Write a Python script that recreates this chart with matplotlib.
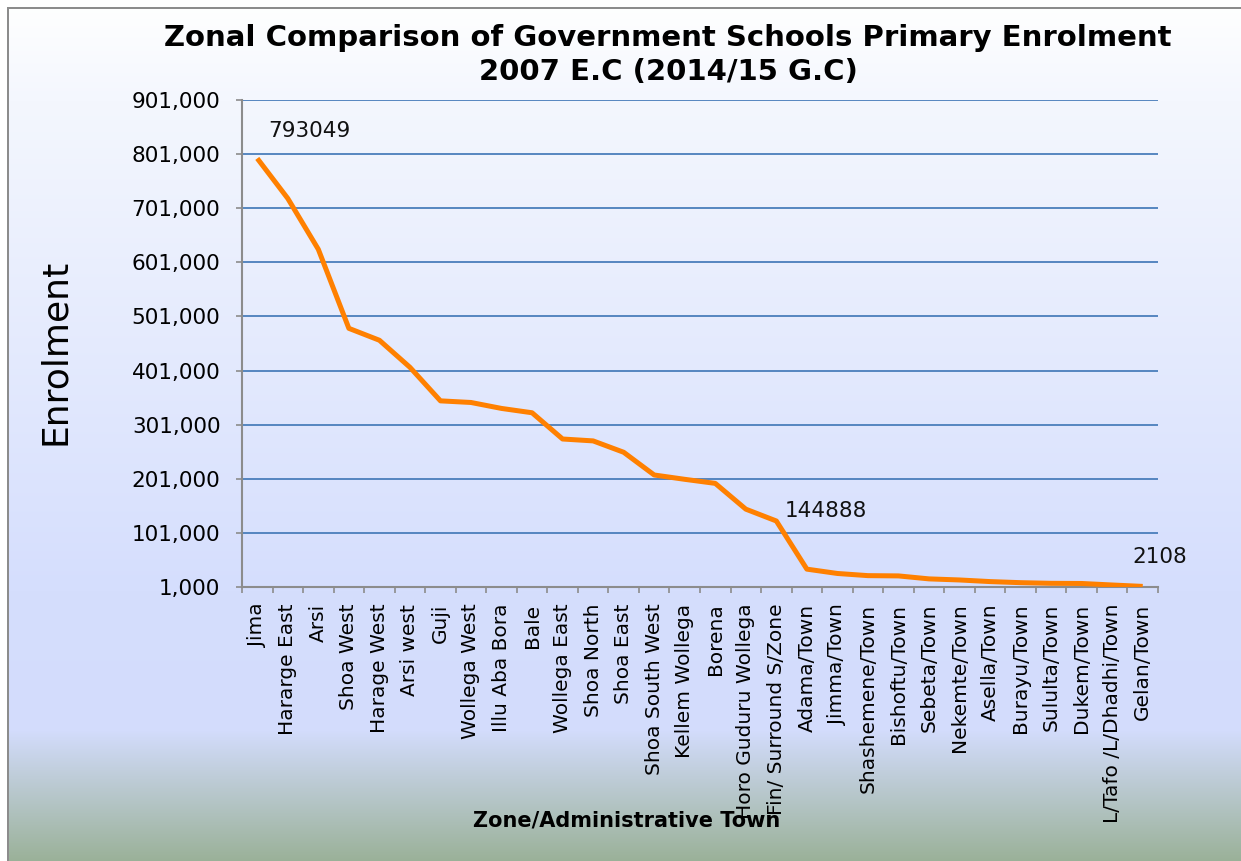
#!/usr/bin/env python3

"""
zonal comparison of government schools primary enrolment, 2007 E.C
"""

import numpy as np
import matplotlib
matplotlib.use("Agg")
import matplotlib.pyplot as plt
from matplotlib.ticker import FuncFormatter

zones = ["Jima", "Hararge East", "Arsi", "Shoa West", "Harage West", "Arsi west",
         "Guji", "Wollega West", "Illu Aba Bora", "Bale", "Wollega East", "Shoa North",
         "Shoa East", "Shoa South West", "Kellem Wollega", "Borena",
         "Horo Guduru Wollega", "Fin/ Surround S/Zone", "Adama/Town", "Jimma/Town",
         "Shashemene/Town", "Bishoftu/Town", "Sebeta/Town", "Nekemte/Town",
         "Asella/Town", "Burayu/Town", "Sululta/Town", "Dukem/Town",
         "L/Tafo /L/Dhadhi/Town", "Gelan/Town"]
enrolment = [793049, 719000, 625000, 479000, 457000, 407000, 345000, 342000,
             331000, 323000, 274500, 271000, 250000, 208000, 200000, 192500,
             144888, 123000, 34000, 26000, 22000, 21500, 16000, 14000,
             11000, 9000, 7800, 7500, 4700, 2108]
yticks = list(range(1000, 901001, 100000))
labelled = [0, 16, 29]

fig = plt.figure(figsize=(12.41, 8.61), dpi=100)

# background gradient + outer border drawn straight into one image
H, W = 861, 1241
stops_y = [0, 100, 590, 730, 861]
stops_c = np.array([[255, 255, 255], [244, 247, 254], [213, 222, 253],
                    [211, 220, 252], [154, 177, 152]]) / 255.0
rows = np.arange(H)
grad = np.stack([np.interp(rows, stops_y, stops_c[:, k]) for k in range(3)], axis=1)
img = np.repeat(grad[:, None, :], W, axis=1)
img[:7, :, :] = 1.0
img[:, :7, :] = 1.0
img[7:9, 7:, :] = 0.55   # top border
img[7:, 7:9, :] = 0.55   # left border
bg = fig.add_axes([0, 0, 1, 1], zorder=-10)
bg.imshow(img, aspect="auto", interpolation="nearest")
bg.set_axis_off()

ax = fig.add_axes([242 / 1241, 1 - 587 / 861, 916 / 1241, 487 / 861])
ax.set_facecolor("none")

x = np.arange(len(zones))
ax.plot(x, enrolment, color="#ff8000", linewidth=3.6, solid_capstyle="butt", zorder=3)

for i in labelled:
    offs = {0: (8, 20), 16: (28, -1), 29: (12, 21)}[i]
    ax.annotate(str(enrolment[i]), (x[i], enrolment[i]), xytext=offs,
                textcoords="offset points", ha="left" if i != 29 else "center",
                va="center", fontsize=15.5, color="#111111")

ax.set_xlim(-0.5, len(zones) - 0.5)
ax.set_ylim(1000, 901000)
ax.set_yticks(yticks)
ax.yaxis.set_major_formatter(FuncFormatter(lambda v, p: "{:,}".format(int(v))))
ax.set_xticks(x)
ax.set_xticklabels(zones, rotation=90, ha="center", va="top")
ax.set_xticks(np.arange(len(zones) + 1) - 0.5, minor=True)
ax.tick_params(axis="x", which="major", length=0, pad=12, labelsize=14.5)
ax.tick_params(axis="x", which="minor", length=4.5, width=1.2, color="#8c8c8c", direction="out")
ax.tick_params(axis="y", length=4.5, width=1.2, color="#8c8c8c", pad=11, labelsize=15.5)

ax.grid(axis="y", color="#4a7ebb", linewidth=1.3)
ax.set_axisbelow(True)
for s in ["top", "right"]:
    ax.spines[s].set_visible(False)
for s in ["left", "bottom"]:
    ax.spines[s].set_color("#8c8c8c")
    ax.spines[s].set_linewidth(1.5)

fig.text(668 / 1241, 1 - 55 / 861,
         "Zonal Comparison of Government Schools Primary Enrolment\n2007 E.C (2014/15 G.C)",
         ha="center", va="center", fontsize=21, fontweight="bold", linespacing=1.25)
fig.text(55 / 1241, 1 - 352 / 861, "Enrolment", rotation=90, ha="center", va="center",
         fontsize=26)
fig.text(627 / 1241, 1 - 820 / 861, "Zone/Administrative Town", ha="center", va="center",
         fontsize=15, fontweight="bold", zorder=1)

fig.savefig("out.png", dpi=100)
plt.close(fig)
